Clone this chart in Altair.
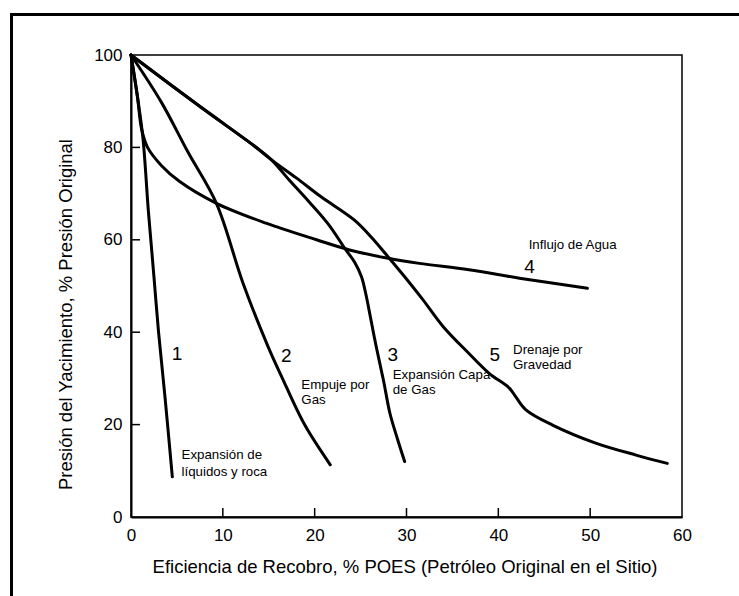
import altair as alt
import pandas as pd

# ---- curve data (x = recovery efficiency %, y = reservoir pressure %) ----
c1_x = [0, 0.7, 1.3, 1.9, 2.5, 3.0, 3.7, 4.5]
c1_y = [100, 91, 82, 66, 52, 40, 26, 8.7]

c2_x = [0, 3.3, 6.2, 9.3, 12.2, 14.9, 16.4, 18.9, 21.7]
c2_y = [100, 89.8, 79, 67.9, 50.6, 37, 30.4, 20, 11.3]

c3_x = [0, 7.4, 13.5, 15.3, 17.2, 18.9, 21.4, 23.4, 24.4, 25.1, 25.6, 26.0, 26.7, 27.5, 28.2, 29.0, 29.8]
c3_y = [100, 89, 80.2, 77.3, 73, 69.3, 63.6, 57.8, 55, 52, 48, 44, 36.9, 29.5, 22.4, 17, 12]

c4_x = [0, 0.7, 1.15, 1.8, 3.3, 5.3, 9.3, 14.7, 20.2, 23.8, 28.0, 31.4, 36.8, 42.3, 49.7]
c4_y = [100, 91, 84, 80.0, 76.1, 72.6, 67.9, 63.6, 60, 57.8, 56, 54.9, 53.5, 51.7, 49.5]

c5_x = [0, 7.4, 13.5, 15.3, 18.0, 20.7, 24.3, 26.2, 28.0, 29.8, 31.8, 34.0, 36.8, 39.0, 41.2, 41.9, 43.0, 45.9, 50.6, 55.0, 58.4]
c5_y = [100, 89, 80.2, 77.3, 73.4, 69.3, 64.3, 60.5, 56.3, 52, 47, 41.2, 35.4, 31.1, 27.9, 26, 23.2, 19.9, 16, 13.4, 11.6]

# curve number labels
num_text = ["1", "2", "3", "4", "5"]
num_x = [5.0, 16.9, 28.5, 43.4, 39.6]
num_y = [35.3, 34.8, 35.1, 54.2, 35.1]

# descriptive labels
desc_text = ["Expansión de", "líquidos y roca", "Empuje por", "Gas",
             "Expansión Capa", "de Gas", "Drenaje por", "Gravedad", "Influjo de Agua"]
desc_x = [5.5, 5.5, 18.55, 18.55, 28.5, 28.5, 41.6, 41.6, 43.3]
desc_y = [13.4, 9.8, 28.6, 25.3, 30.7, 27.5, 36.1, 32.9, 58.9]

x_ticks = [10, 20, 30, 40, 50]
y_ticks = [20, 40, 60, 80]

FONT = "Liberation Sans"
W, H = 551, 462

rows = []
for cid, xs_, ys_ in [("1", c1_x, c1_y), ("2", c2_x, c2_y), ("3", c3_x, c3_y),
                      ("4", c4_x, c4_y), ("5", c5_x, c5_y)]:
    for i, (a, b) in enumerate(zip(xs_, ys_)):
        rows.append({"curve": cid, "x": a, "y": b, "order": i})
curves = pd.DataFrame(rows)

xs = alt.Scale(domain=[0, 60], nice=False, zero=False)
ys = alt.Scale(domain=[0, 100], nice=False, zero=False)

x_axis = alt.Axis(values=[0, 10, 20, 30, 40, 50, 60], ticks=False, tickSize=0, grid=False,
                  labelFlush=False, labelPadding=10, labelFontSize=17, labelFont=FONT,
                  labelColor="black", domainColor="black", domainWidth=2,
                  title="Eficiencia de Recobro, % POES (Petróleo Original en el Sitio)",
                  titleFont=FONT, titleFontSize=18.5, titleFontWeight="normal", titleColor="black",
                  titleX=W / 2 - 2, titleY=49, titleBaseline="middle")
y_axis = alt.Axis(values=[0, 20, 40, 60, 80, 100], ticks=False, tickSize=0, grid=False,
                  labelFlush=False, labelPadding=9, labelFontSize=17, labelFont=FONT,
                  labelColor="black", domainColor="black", domainWidth=2,
                  title="Presión del Yacimiento, % Presión Original",
                  titleFont=FONT, titleFontSize=18.5, titleFontWeight="normal", titleColor="black",
                  titleX=-66, titleY=259, titleBaseline="middle")

lines = alt.Chart(curves).mark_line(color="black", strokeWidth=3, interpolate="catmull-rom",
                                    strokeCap="round").encode(
    x=alt.X("x:Q", scale=xs, axis=x_axis),
    y=alt.Y("y:Q", scale=ys, axis=y_axis),
    detail="curve:N",
    order="order:Q",
)

xt = alt.Chart(pd.DataFrame({"v": x_ticks})).mark_rule(color="black", strokeWidth=1.5).encode(
    x=alt.X("v:Q", scale=xs), y=alt.value(H), y2=alt.value(H - 9))
yt = alt.Chart(pd.DataFrame({"v": y_ticks})).mark_rule(color="black", strokeWidth=1.5).encode(
    y=alt.Y("v:Q", scale=ys), x=alt.value(0), x2=alt.value(9))

nums = alt.Chart(pd.DataFrame({"t": num_text, "x": num_x, "y": num_y})).mark_text(
    font=FONT, fontSize=19, color="black", align="center", baseline="middle").encode(
    x=alt.X("x:Q", scale=xs), y=alt.Y("y:Q", scale=ys), text="t:N")

descs = alt.Chart(pd.DataFrame({"t": desc_text, "x": desc_x, "y": desc_y})).mark_text(
    font=FONT, fontSize=13.3, color="black", align="left", baseline="middle").encode(
    x=alt.X("x:Q", scale=xs), y=alt.Y("y:Q", scale=ys), text="t:N")

frame = alt.Chart(pd.DataFrame({"a": [0]})).mark_rect(
    fill=None, stroke="black", strokeWidth=3).encode(
    x=alt.value(-119.5), x2=alt.value(720), y=alt.value(-40.5), y2=alt.value(700))

chart = alt.layer(frame, lines, xt, yt, nums, descs).properties(
    width=W, height=H,
    autosize=alt.AutoSizeParams(type="none"),
    padding={"left": 131, "top": 55, "right": 57, "bottom": 79},
    background="white",
).configure_view(stroke="black", strokeWidth=1.5)

chart.save("out.html", embed_options={"renderer": "svg", "actions": False})
